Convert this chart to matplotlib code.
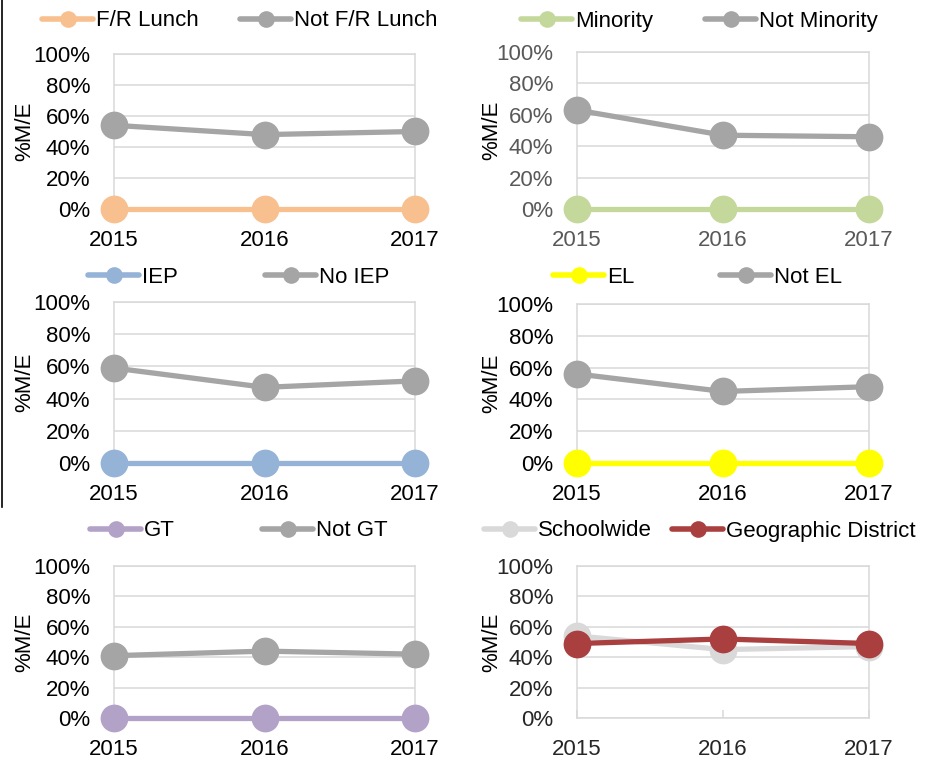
import matplotlib
matplotlib.use("Agg")
import matplotlib.pyplot as plt
from matplotlib import font_manager
from matplotlib.lines import Line2D

# data (% meeting/exceeding)
years = ["2015", "2016", "2017"]
fr_lunch = [0, 0, 0]
not_fr_lunch = [54, 48, 50]
minority = [0, 0, 0]
not_minority = [63, 47, 46]
iep = [0, 0, 0]
no_iep = [59, 47, 51]
el = [0, 0, 0]
not_el = [56, 45, 48]
gt = [0, 0, 0]
not_gt = [41, 44, 42]
schoolwide = [54, 45, 47]
geo_district = [49, 52, 49]

names = {f.name for f in font_manager.fontManager.ttflist}
if "Liberation Sans Narrow" in names:
    plt.rcParams["font.family"] = ["Liberation Sans Narrow", "Liberation Sans"]
    FS = 17
else:
    plt.rcParams["font.family"] = ["Liberation Sans", "DejaVu Sans"]
    FS = 16

W, H = 936, 765
fig = plt.figure(figsize=(W / 100, H / 100), dpi=100)

GRID = "#D9D9D9"
GREY = "#A5A5A5"


def px_axes(x0, x1, ytop, ybot):
    return fig.add_axes([x0 / W, 1 - ybot / H, (x1 - x0) / W, (ybot - ytop) / H])


def legend_entry(label, color, x, y):
    h = Line2D([], [], color=color, lw=4, marker="o", markersize=12,
               markeredgewidth=0, solid_capstyle="round")
    fig.legend(handles=[h], labels=[label], loc="center left",
               bbox_to_anchor=(x / W, 1 - y / H), frameon=False,
               borderpad=0, borderaxespad=0, handlelength=2.3,
               handletextpad=0.12, fontsize=FS)


# (series A, colour A, label A, series B, colour B, label B, axes box, legend x's, legend y, tick colour)
panels = [
    (fr_lunch, "#F8C08F", "F/R Lunch", not_fr_lunch, GREY, "Not F/R Lunch",
     (114, 415, 54, 209), (42, 240), 21, "black"),
    (minority, "#C4D89C", "Minority", not_minority, GREY, "Not Minority",
     (577, 869, 52, 209), (521, 705), 21, "#595959"),
    (iep, "#95B3D7", "IEP", no_iep, GREY, "No IEP",
     (114, 415, 302, 463), (88, 265), 277, "black"),
    (el, "#FFFF00", "EL", not_el, GREY, "Not EL",
     (577, 869, 304, 463), (553, 720), 277, "black"),
    (gt, "#B3A2C7", "GT", not_gt, GREY, "Not GT",
     (114, 415, 566, 718), (90, 262), 531, "black"),
    (schoolwide, "#D9D9D9", "Schoolwide", geo_district, "#A9403F", "Geographic District",
     (577, 869, 566, 718), (484, 672), 531, "#262626"),
]

x = list(range(len(years)))
for i, (a, ca, la, b, cb, lb, box, lx, ly, tc) in enumerate(panels):
    ax = px_axes(*box)
    ax.plot(x, a, color=ca, lw=3.8, marker="o", markersize=20,
            markeredgewidth=0, clip_on=False, zorder=3)
    ax.plot(x, b, color=cb, lw=3.8, marker="o", markersize=20,
            markeredgewidth=0, clip_on=False, zorder=4)
    ax.set_xlim(0, 2)
    ax.set_ylim(0, 100)
    ax.set_xticks(x)
    ax.set_xticklabels(years)
    ax.set_yticks(range(0, 101, 20))
    ax.set_yticklabels([f"{v}%" for v in range(0, 101, 20)])
    ax.yaxis.grid(True, color=GRID, lw=1.1)
    ax.set_axisbelow(True)
    for s in ax.spines.values():
        s.set_color(GRID)
        s.set_linewidth(1.1)
    ax.tick_params(axis="y", length=0, pad=17, labelsize=FS, labelcolor=tc)
    if i == 5:
        ax.tick_params(axis="x", direction="in", length=6, width=1.1,
                       color=GRID, pad=15, labelsize=FS, labelcolor=tc)
    else:
        ax.tick_params(axis="x", length=0, pad=15, labelsize=FS, labelcolor=tc)
    ax.set_ylabel("%M/E", fontsize=FS, color="black")
    ax.yaxis.set_label_coords(-0.262 if box[0] < 300 else -0.255, 0.5)
    legend_entry(la, ca, lx[0], ly)
    legend_entry(lb, cb, lx[1], ly)

# black border line along the left edge of the screenshot
fig.add_artist(Line2D([1.5 / W, 1.5 / W], [1, 1 - 507 / H], color="black", lw=1.2))

fig.savefig("out.png", dpi=100)
